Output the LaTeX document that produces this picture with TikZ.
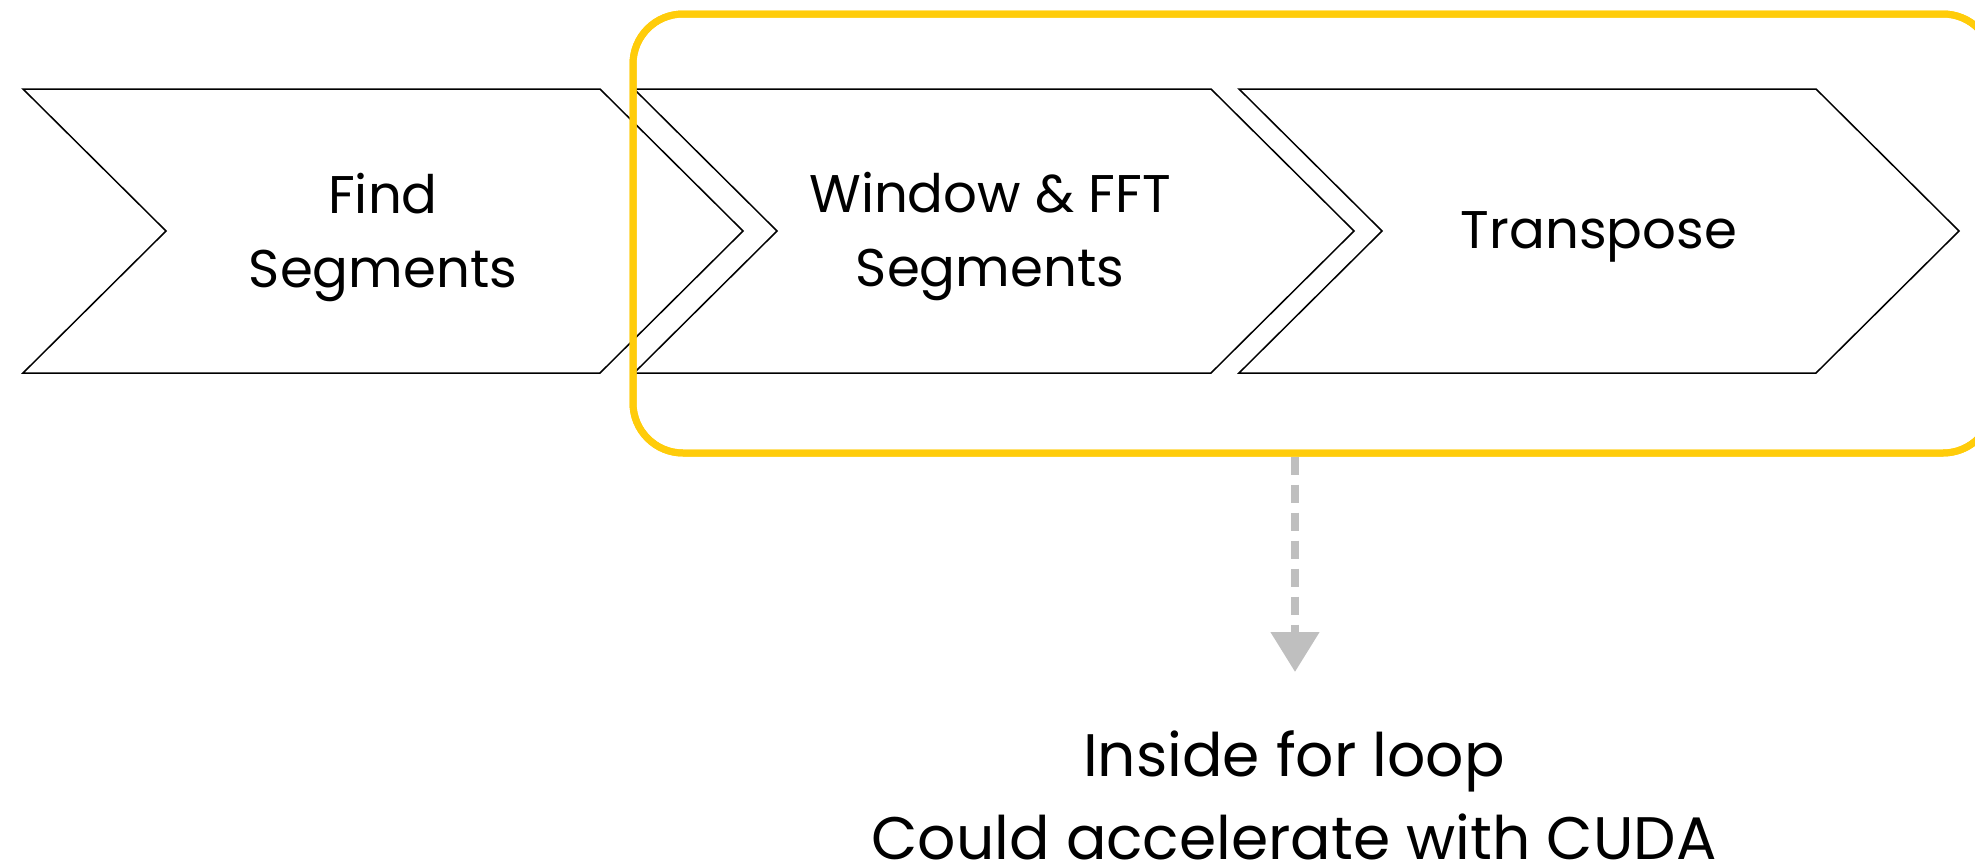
\documentclass[tikz,border=0pt]{standalone}
\usepackage{fontspec}
\setmainfont{Poppins}
\usetikzlibrary{arrows.meta,calc}
\definecolor{loopyellow}{RGB}{255,204,10}
\definecolor{hintgray}{RGB}{191,191,191}
\tikzset{
  chev/.style={draw=black, line width=1.5pt, fill=white, line join=miter},
  chevron/.pic={\draw[chev] (0,0) -- (577,0) -- (720,142) -- (577,284) -- (0,284) -- (143,142) -- cycle;},
  steplabel/.style={align=center, anchor=base, inner sep=0pt, font=\fontsize{53}{74}\selectfont},
  loopframe/.style={draw=loopyellow, line width=7pt, rounded corners=50pt,
    minimum width=1360pt, minimum height=439pt, inner sep=0pt},
  hint/.style={draw=hintgray, line width=8pt, dash pattern=on 18pt off 10pt,
    -{Triangle[width=47pt,length=40pt,fill=hintgray]}},
  notetext/.style={align=center, anchor=base, inner sep=0pt, text depth=0pt,
    font=\fontsize{60}{83}\selectfont}
}
\begin{document}
\begin{tikzpicture}[x=1pt,y=-1pt]
\useasboundingbox (0,0) rectangle (1975,865);
\clip (0,0) rectangle (1975,865);
% the three process steps
\pic at (23,89) {chevron};
\pic at (634,89) {chevron};
\pic at (1239,89) {chevron};
% labels are placed by the baseline of their last line
\node[steplabel] (find) at (383,287) {Find\\Segments};
\node[steplabel] (fft) at (990,286) {Window \& FFT\\Segments};
\node[steplabel] (transpose) at (1599,248) {Transpose};
% note below the loop
\node[notetext] (note) at (1294,859) {Inside for loop\\Could accelerate with CUDA};
\coordinate (hinttip) at (1295,672);
% frame around the steps done in the loop
\node[loopframe] (loop) at (1313,233.5) {};
\draw[hint] (loop.south -| hinttip) -- (hinttip);
\node[loopframe] at (loop.center) {};
\end{tikzpicture}
\end{document}
